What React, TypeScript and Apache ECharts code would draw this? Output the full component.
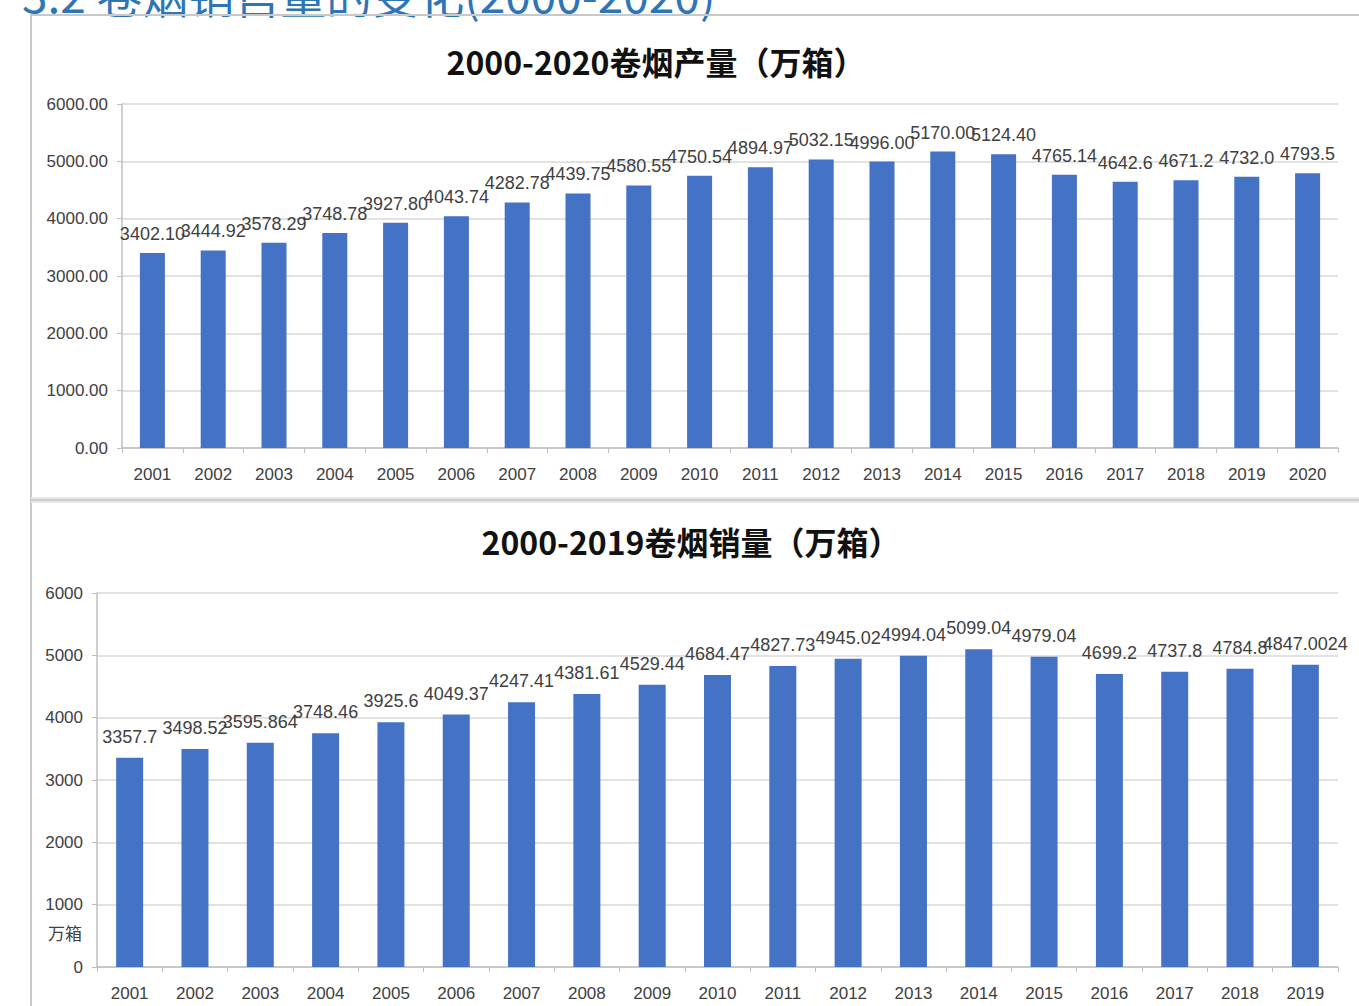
import React, { useEffect, useRef } from "react";
import * as echarts from "echarts";

const prodYears = ["2001","2002","2003","2004","2005","2006","2007","2008","2009","2010","2011","2012","2013","2014","2015","2016","2017","2018","2019","2020"];
const prodValues = [3402.10, 3444.92, 3578.29, 3748.78, 3927.80, 4043.74, 4282.78, 4439.75, 4580.55, 4750.54, 4894.97, 5032.15, 4996.00, 5170.00, 5124.40, 4765.14, 4642.6, 4671.2, 4732.0, 4793.5];
const prodLabels = ["3402.10","3444.92","3578.29","3748.78","3927.80","4043.74","4282.78","4439.75","4580.55","4750.54","4894.97","5032.15","4996.00","5170.00","5124.40","4765.14","4642.6","4671.2","4732.0","4793.5"];

const salesYears = ["2001","2002","2003","2004","2005","2006","2007","2008","2009","2010","2011","2012","2013","2014","2015","2016","2017","2018","2019"];
const salesValues = [3357.7, 3498.52, 3595.864, 3748.46, 3925.6, 4049.37, 4247.41, 4381.61, 4529.44, 4684.47, 4827.73, 4945.02, 4994.04, 5099.04, 4979.04, 4699.2, 4737.8, 4784.8, 4847.0024];

const headingText = "3.2 卷烟销售量的变化(2000-2020)";
const prodTitle = "2000-2020卷烟产量（万箱）";
const salesTitle = "2000-2019卷烟销量（万箱）";
const unitText = "万箱";

const BAR = "#4472C4";
const GRID = "#d9d9d9";
const AXIS = "#bfbfbf";
const TXT = "#404040";
const NUMFONT = "'Liberation Sans Narrow', 'Liberation Sans', sans-serif";
const CJK = "'Noto Sans CJK SC', sans-serif";

export default function App() {
  const ref = useRef<HTMLDivElement>(null);
  useEffect(() => {
    document.body.style.margin = "0";
    const chart = echarts.init(ref.current!, null, { renderer: "svg" });
    const yAxisCommon = {
      type: "value",
      min: 0,
      max: 6000,
      interval: 1000,
      axisLine: { show: true, lineStyle: { color: AXIS, width: 1.5 } },
      axisTick: { show: true, length: 5, lineStyle: { color: AXIS } },
      splitLine: { show: true, lineStyle: { color: GRID, width: 1.5 } },
    };
    const xAxisCommon = {
      type: "category",
      boundaryGap: true,
      axisLine: { show: true, lineStyle: { color: AXIS, width: 1.5 } },
      axisTick: { show: true, length: 5, alignWithLabel: false, lineStyle: { color: AXIS } },
      axisLabel: { color: TXT, fontSize: 17, fontFamily: NUMFONT, margin: 18, interval: 0 },
    };
    chart.setOption({
      animation: false,
      backgroundColor: "#ffffff",
      title: [
        { text: prodTitle, left: 651, top: 40, textAlign: "center",
          textStyle: { fontSize: 32, fontWeight: "bold", color: "#111", fontFamily: CJK } },
        { text: salesTitle, left: 686, top: 520, textAlign: "center",
          textStyle: { fontSize: 32, fontWeight: "bold", color: "#111", fontFamily: CJK } },
      ],
      grid: [
        { left: 122, right: 21, top: 104, height: 344, containLabel: false },
        { left: 97, right: 21, top: 593, height: 374, containLabel: false },
      ],
      xAxis: [
        { ...xAxisCommon, gridIndex: 0, data: prodYears },
        { ...xAxisCommon, gridIndex: 1, data: salesYears },
      ],
      yAxis: [
        { ...yAxisCommon, gridIndex: 0,
          axisLabel: { color: TXT, fontSize: 17, fontFamily: NUMFONT, margin: 14, formatter: (v: number) => v.toFixed(2) } },
        { ...yAxisCommon, gridIndex: 1,
          axisLabel: { color: TXT, fontSize: 17, fontFamily: NUMFONT, margin: 14, formatter: (v: number) => String(v) } },
      ],
      series: [
        {
          type: "bar", xAxisIndex: 0, yAxisIndex: 0, data: prodValues, barWidth: 25,
          itemStyle: { color: BAR },
          label: { show: true, position: "top", distance: 10, color: TXT, fontSize: 18, fontFamily: NUMFONT,
            formatter: (p: any) => prodLabels[p.dataIndex] },
        },
        {
          type: "bar", xAxisIndex: 1, yAxisIndex: 1, data: salesValues, barWidth: 27,
          itemStyle: { color: BAR },
          label: { show: true, position: "top", distance: 12, color: TXT, fontSize: 18, fontFamily: NUMFONT,
            formatter: (p: any) => String(salesValues[p.dataIndex]) },
        },
      ],
      graphic: [
        { type: "text", left: 22, top: -30, silent: true,
          style: { text: headingText, fill: "#2E75B6", font: `46px ${CJK}` } },
        { type: "line", silent: true, shape: { x1: 30, y1: 15, x2: 1359, y2: 15 }, style: { stroke: "#c8c8c8", lineWidth: 2 } },
        { type: "line", silent: true, shape: { x1: 31, y1: 15, x2: 31, y2: 1006 }, style: { stroke: "#c8c8c8", lineWidth: 2 } },
        { type: "rect", silent: true, shape: { x: 31, y: 497, width: 1328, height: 6 }, style: { fill: "#e6e6e6" } },
        { type: "line", silent: true, shape: { x1: 31, y1: 500, x2: 1359, y2: 500 }, style: { stroke: "#c4c4c4", lineWidth: 1.5 } },
        { type: "text", left: 48, top: 924, silent: true,
          style: { text: unitText, fill: TXT, font: `17px ${CJK}` } },
      ],
    });
    return () => chart.dispose();
  }, []);
  return <div ref={ref} style={{ width: 1359, height: 1006 }} />;
}
